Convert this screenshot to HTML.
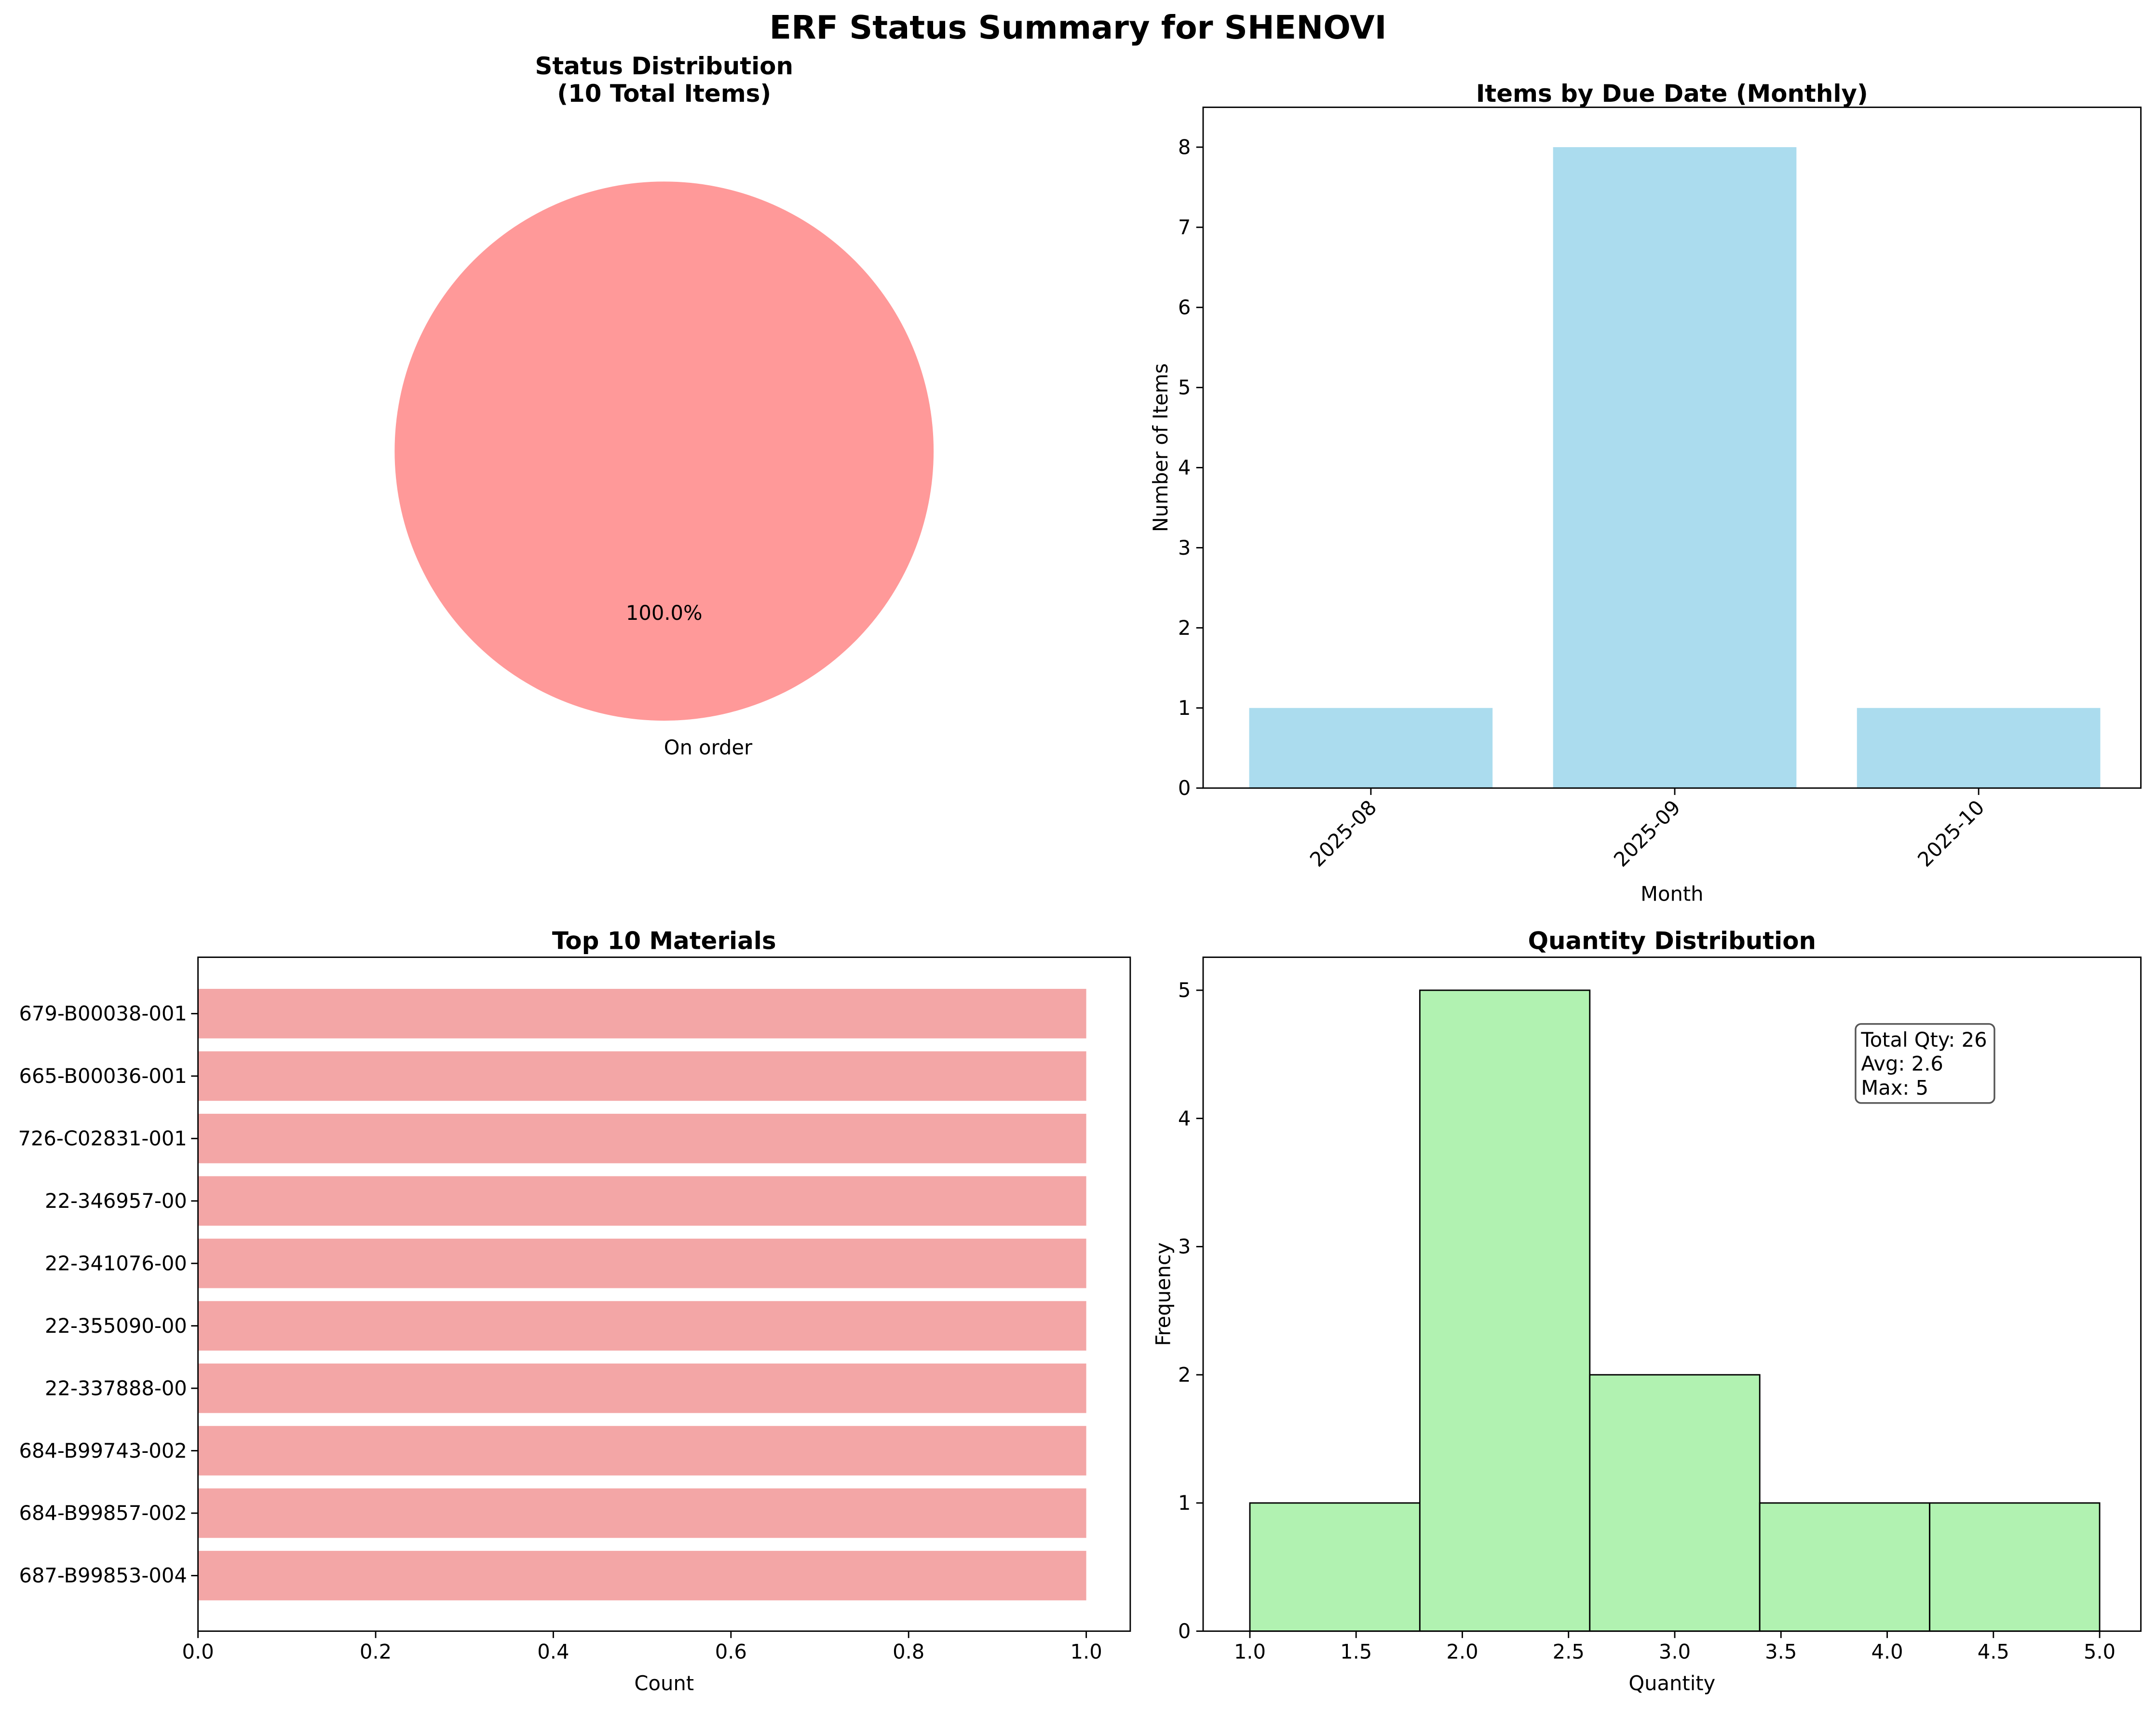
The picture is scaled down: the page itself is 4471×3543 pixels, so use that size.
<!DOCTYPE html>
<html><head><meta charset="utf-8"><style>
html,body{margin:0;padding:0;background:#fff}
svg{display:block;font-family:"DejaVu Sans","Liberation Sans",sans-serif}
</style></head><body>
<svg id="fig" width="4471" height="3543" viewBox="0 0 1568 1242.6" preserveAspectRatio="none" xmlns="http://www.w3.org/2000/svg">
<rect width="1568" height="1243" fill="#fff"/>
<text x="784" y="28" text-anchor="middle" font-size="23.4" font-weight="bold">ERF Status Summary for SHENOVI</text>
<g id="g"></g>
</svg>
<script>
const statusLabels=["On order"];
const statusCounts=[10];
const months=["2025-08","2025-09","2025-10"];
const monthCounts=[1,8,1];
const monthTicks=[0,1,2,3,4,5,6,7,8];
const materials=["679-B00038-001","665-B00036-001","726-C02831-001","22-346957-00","22-341076-00","22-355090-00","22-337888-00","684-B99743-002","684-B99857-002","687-B99853-004"];
const materialCounts=[1,1,1,1,1,1,1,1,1,1];
const countTicks=[0,0.2,0.4,0.6,0.8,1.0];
const binEdges=[1,1.8,2.6,3.4,4.2,5];
const binCounts=[1,5,2,1,1];
const qtyTicks=[1,1.5,2,2.5,3,3.5,4,4.5,5];
const freqTicks=[0,1,2,3,4,5];

const TS=17.5, LS=14.6, KS=14.6;
const NS="http://www.w3.org/2000/svg";
const G=document.getElementById('g');
function mk(tag,attrs,parent,text){const e=document.createElementNS(NS,tag);for(const k in attrs)e.setAttribute(k,attrs[k]);if(text!==undefined)e.textContent=text;(parent||G).appendChild(e);return e;}

// ---- Pie ----
const total=statusCounts.reduce((a,b)=>a+b,0);
const pcx=483,pcy=328,pr=196;
let t1=mk('text',{x:483,y:54,'text-anchor':'middle','font-size':TS,'font-weight':'bold'},G,'Status Distribution');


let t2=mk('text',{x:483,y:74,'text-anchor':'middle','font-size':TS,'font-weight':'bold'},G,'('+total+' Total Items)');


let ang=-Math.PI/2;
statusCounts.forEach((c,i)=>{
  const frac=c/total;
  let el;
  if(frac>=0.9999){el=mk('circle',{cx:pcx,cy:pcy,r:pr,fill:'#ff9999'});}
  else{const a2=ang+frac*2*Math.PI;el=mk('path',{d:`M${pcx},${pcy}L${pcx+pr*Math.cos(ang)},${pcy+pr*Math.sin(ang)}A${pr},${pr} 0 ${frac>0.5?1:0} 1 ${pcx+pr*Math.cos(a2)},${pcy+pr*Math.sin(a2)}Z`,fill:'#ff9999'});}
  
  
  const midA=ang+frac*Math.PI;
  const p=mk('text',{x:pcx+0.6*pr*Math.cos(midA),y:pcy+0.6*pr*Math.sin(midA)+5,'text-anchor':'middle','font-size':LS},G,(frac*100).toFixed(1)+'%');
  
  
  const l=mk('text',{x:pcx+1.1*pr*Math.cos(midA)+32,y:pcy+1.1*pr*Math.sin(midA)+5,'text-anchor':'middle','font-size':LS},G,statusLabels[i]);
  
  
  ang+=frac*2*Math.PI;
});

// ---- Monthly bar ----
(function(){
  const L=875,R=1557,T=78,B=573;
  const y=v=>B-v*(B-107)/8;
  const step=221, x0=997;
  const x=i=>x0+i*step;
  const tt=mk('text',{x:(L+R)/2,y:74,'text-anchor':'middle','font-size':TS,'font-weight':'bold'},G,'Items by Due Date (Monthly)');
  
  
  monthCounts.forEach((v,i)=>{
    const b=mk('rect',{x:x(i)-88.5,y:y(v),width:177,height:B-y(v),fill:'#abdcee'});
    
    
  });
  monthTicks.forEach(v=>{
    mk('line',{x1:L-5,x2:L,y1:y(v),y2:y(v),stroke:'#000','stroke-width':1});
    const t=mk('text',{x:L-9,y:y(v)+5,'text-anchor':'end','font-size':KS},G,v);
    
    
  });
  months.forEach((m,i)=>{
    mk('line',{x1:x(i),x2:x(i),y1:B,y2:B+5,stroke:'#000','stroke-width':1});
    const t=mk('text',{x:x(i)+5,y:B+15,'text-anchor':'end','font-size':KS,transform:`rotate(-45 ${x(i)+5} ${B+15})`},G,m);
    
    
  });
  const fr=mk('rect',{x:L,y:T,width:R-L,height:B-T,fill:'none',stroke:'#000','stroke-width':1});
  
  
  const xl=mk('text',{x:(L+R)/2,y:655,'text-anchor':'middle','font-size':LS},G,'Month');
  
  
  const yl=mk('text',{x:849,y:(T+B)/2,'text-anchor':'middle','font-size':LS,transform:`rotate(-90 849 ${(T+B)/2})`},G,'Number of Items');
  
  
})();

// ---- Top materials ----
(function(){
  const L=144,R=822,T=696,B=1186;
  const x=v=>L+v*(790-L);
  const y=i=>737+i*45.4;
  const tt=mk('text',{x:(L+R)/2,y:690,'text-anchor':'middle','font-size':TS,'font-weight':'bold'},G,'Top 10 Materials');
  
  
  materialCounts.forEach((v,i)=>{
    const b=mk('rect',{x:L,y:y(i)-18,width:x(v)-L,height:36,fill:'#f3a6a6'});
    
    
    mk('line',{x1:L-5,x2:L,y1:y(i),y2:y(i),stroke:'#000','stroke-width':1});
    const t=mk('text',{x:L-8,y:y(i)+5,'text-anchor':'end','font-size':KS},G,materials[i]);
    
    
  });
  countTicks.forEach(v=>{
    mk('line',{x1:x(v),x2:x(v),y1:B,y2:B+5,stroke:'#000','stroke-width':1});
    const t=mk('text',{x:x(v),y:B+20,'text-anchor':'middle','font-size':KS},G,v.toFixed(1));
    
    
  });
  const fr=mk('rect',{x:L,y:T,width:R-L,height:B-T,fill:'none',stroke:'#000','stroke-width':1});
  
  
  const xl=mk('text',{x:(L+R)/2,y:1229,'text-anchor':'middle','font-size':LS},G,'Count');
  
  
})();

// ---- Histogram ----
(function(){
  const L=875,R=1557,T=696,B=1186;
  const x=v=>909+(v-1)*(1527-909)/4;
  const y=v=>B-v*(B-720)/5;
  const tt=mk('text',{x:(L+R)/2,y:690,'text-anchor':'middle','font-size':TS,'font-weight':'bold'},G,'Quantity Distribution');
  
  
  binCounts.forEach((c,i)=>{
    const b=mk('rect',{x:x(binEdges[i]),y:y(c),width:x(binEdges[i+1])-x(binEdges[i]),height:B-y(c),fill:'#b1f2b1',stroke:'#000','stroke-width':1});
    
    
  });
  qtyTicks.forEach(v=>{
    mk('line',{x1:x(v),x2:x(v),y1:B,y2:B+5,stroke:'#000','stroke-width':1});
    const t=mk('text',{x:x(v),y:B+20,'text-anchor':'middle','font-size':KS},G,v.toFixed(1));
    
    
  });
  freqTicks.forEach(v=>{
    mk('line',{x1:L-5,x2:L,y1:y(v),y2:y(v),stroke:'#000','stroke-width':1});
    const t=mk('text',{x:L-9,y:y(v)+5,'text-anchor':'end','font-size':KS},G,v);
    
    
  });
  const fr=mk('rect',{x:L,y:T,width:R-L,height:B-T,fill:'none',stroke:'#000','stroke-width':1});
  
  
  const xl=mk('text',{x:(L+R)/2,y:1229,'text-anchor':'middle','font-size':LS},G,'Quantity');
  
  
  const yl=mk('text',{x:851,y:(T+B)/2,'text-anchor':'middle','font-size':LS,transform:`rotate(-90 851 ${(T+B)/2})`},G,'Frequency');
  
  
  const bx=mk('rect',{x:1349.5,y:744.5,width:101,height:57.5,rx:4,fill:'#fff',stroke:'#555','stroke-width':1.2});
  
  
  ['Total Qty: 26','Avg: 2.6','Max: 5'].forEach((s,i)=>{
    const t=mk('text',{x:1353.5,y:761+i*17.5,'font-size':LS},G,s);
    
    
  });
})();
</script>
</body></html>
